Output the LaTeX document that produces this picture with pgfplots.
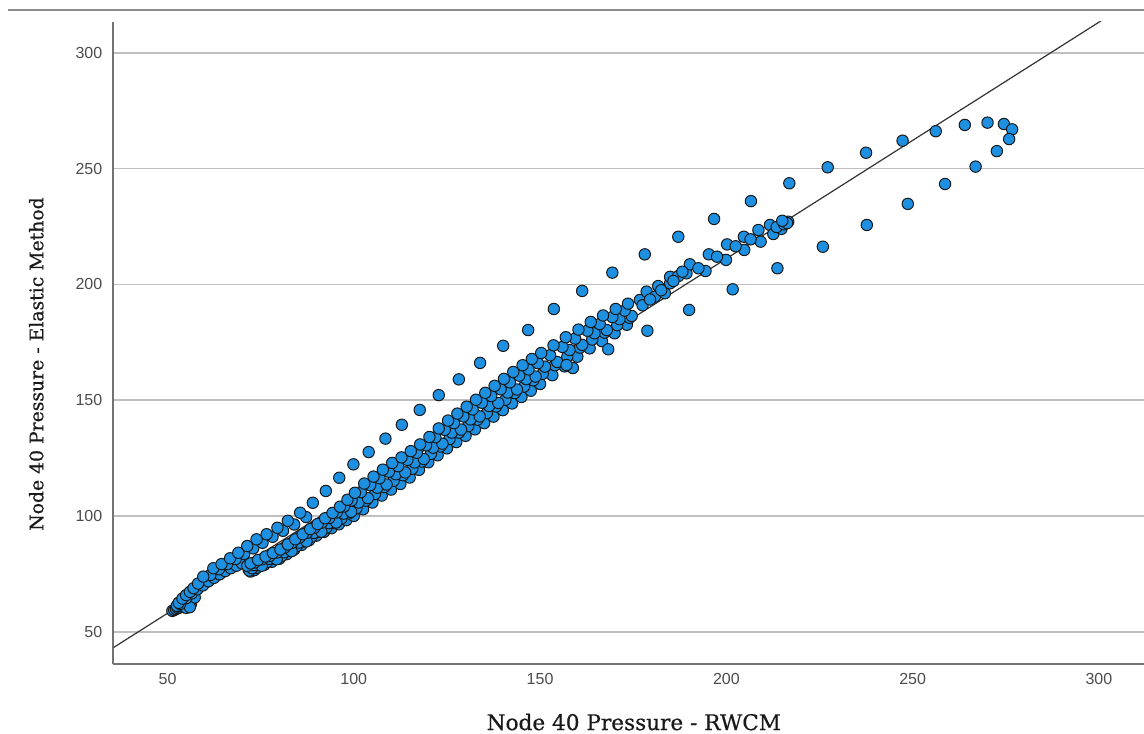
\documentclass[border=0pt]{standalone}
\usepackage{fontspec}
\setmainfont{Liberation Sans}
\newfontfamily\serifl{DejaVu Serif}[FakeBold=0.6]
\usepackage{pgfplots}
\pgfplotsset{compat=1.18}
\usepackage{pgfplotstable}
\definecolor{dotblue}{RGB}{30,144,226}

% main band chains
\pgfplotstableread{
x y
72 76.4
74 77.6
76 78.9
78 80.2
80 81.5
82 83.5
84 85.5
86 87.5
88 89.5
90 91.5
92 93.1
94 94.7
96 96.4
98 98.2
100 100.0
102.5 102.9
105 105.8
107.5 108.8
110 111.4
112.5 113.8
115 116.6
117.5 119.9
120 123.2
122.5 126.2
125 129.2
127.5 131.9
130 134.6
132.5 137.4
135 140.1
137.5 142.9
140 145.7
142.5 148.6
145 151.4
147.5 154.1
150 157.0
153.3 160.8
156.6 164.6
160 168.8
163.3 172.4
166.6 175.5
170 178.9
173.3 182.6
72.7 77.4
74.7 78.7
76.7 80.1
78.7 81.5
80.7 82.8
82.7 84.9
84.7 87.0
86.7 89.0
88.7 91.1
90.7 93.2
92.7 95.0
94.7 96.9
96.7 98.9
98.7 101.1
100.7 103.3
103.2 106.6
105.7 109.5
108.2 112.5
110.7 115.2
113.2 117.6
115.7 120.4
118.2 123.5
120.7 126.8
123.2 130.0
125.7 133.2
128.2 136.0
130.7 138.8
133.2 141.6
135.7 144.4
138.2 147.3
140.7 150.2
143.2 153.1
145.7 155.9
148.2 158.6
150.7 161.4
154.0 165.1
157.3 168.8
160.7 172.7
164.0 176.2
167.3 179.2
170.7 182.4
174.0 185.6
73.3 78.8
75.3 78.5
77.3 81.5
79.3 81.3
81.3 84.3
83.3 84.8
85.3 88.5
87.3 89.0
89.3 92.7
91.3 93.2
93.3 96.9
95.3 97.2
97.3 101.0
99.3 101.8
101.3 105.8
103.8 107.7
106.3 112.2
108.8 113.6
111.3 118.0
113.8 118.8
116.3 123.1
118.8 124.6
121.3 129.5
123.8 131.2
126.3 136.0
128.8 137.3
131.3 141.7
133.8 143.0
136.3 147.5
138.8 148.8
141.3 153.3
143.8 154.6
146.3 159.1
148.8 160.2
151.3 164.5
154.6 166.5
157.9 171.7
161.3 173.9
164.6 178.9
167.9 180.3
171.3 185.0
174.6 186.4
71.4 78.5
73.4 79.9
75.4 81.3
77.4 82.7
79.4 84.2
81.4 86.3
83.4 88.4
85.4 90.6
87.4 92.7
89.4 94.9
91.4 97.1
93.4 99.1
95.4 101.5
97.4 104.1
99.4 106.7
101.9 110.3
104.4 113.3
106.9 116.3
109.4 119.1
111.9 121.5
114.4 124.2
116.9 127.3
119.4 130.5
121.9 134.0
124.4 137.2
126.9 140.1
129.4 143.0
131.9 146.0
134.4 148.9
136.9 151.8
139.4 154.7
141.9 157.7
144.4 160.6
146.9 163.3
149.4 166.0
152.7 169.4
156.0 173.0
159.4 176.6
162.7 180.0
166.0 182.9
169.4 185.9
172.7 188.7
72.3 79.5
74.3 81.0
76.3 82.5
78.3 84.0
80.3 85.5
82.3 87.7
84.3 89.9
86.3 92.1
88.3 94.3
90.3 96.5
92.3 99.0
94.3 101.3
96.3 104.0
98.3 107.0
100.3 110.0
102.8 114.0
105.3 117.0
107.8 120.0
110.3 122.9
112.8 125.3
115.3 128.0
117.8 130.9
120.3 134.1
122.8 137.8
125.3 141.2
127.8 144.2
130.3 147.2
132.8 150.2
135.3 153.2
137.8 156.2
140.3 159.2
142.8 162.2
145.3 165.1
147.8 167.8
150.3 170.4
153.6 173.7
156.9 177.2
160.3 180.5
163.6 183.8
166.9 186.6
170.3 189.4
173.6 191.7
176.8 193.3
178.6 196.9
180.8 194.7
181.7 199.3
183.5 196.2
184.9 200.5
184.9 203.3
187.1 203.6
189.3 204.8
190.2 208.7
194.4 205.8
195.3 213.0
199.9 210.6
200.2 217.3
204.8 214.9
204.7 220.6
209.2 218.5
208.6 223.5
211.7 225.7
212.6 221.8
214.8 224.0
216.6 227.1
177.5 191.0
179.5 193.5
182.5 197.5
185.8 201.5
188.2 205.5
192.5 207.0
197.5 212.0
202.5 216.5
206.5 219.5
213.5 224.8
215.5 226.0
216.3 226.5
215.0 227.5
}\bandtable

% start cluster, chain B and second upper row
\pgfplotstableread{
x y
51.3 59.0
51.8 59.4
52.3 59.8
52.8 60.2
53.3 60.5
53.8 60.8
54.3 61.0
54.8 61.2
55.3 61.0
55.8 61.5
56.3 62.0
52.5 61.2
53.5 62.0
54.5 62.6
55.5 63.3
56.5 64.0
57.3 64.8
55.0 60.3
56.0 60.6
53.4 62.0
55.0 64.5
56.5 66.5
58.0 68.3
59.5 70.0
61.0 71.8
62.5 73.3
64.0 74.8
65.5 76.2
67.0 77.4
68.5 78.5
70.0 79.5
71.8 76.8
72.3 76.0
72.8 77.5
73.3 76.6
61.5 74.5
63.8 77.0
66.0 79.2
68.3 81.4
70.6 83.6
73.0 86.0
75.5 88.4
78.2 91.0
81.0 93.6
84.0 96.3
87.2 99.5
}\starttable

% upper loop chain A and its return branch
\pgfplotstableread{
x y
53.0 62.5
54.0 64.3
55.0 65.8
56.0 67.2
57.0 68.8
58.2 70.8
59.6 73.8
62.3 77.4
64.5 79.2
66.8 81.7
69.0 84.1
71.4 87.0
73.9 89.9
76.6 92.1
79.5 94.9
82.3 97.9
85.6 101.4
89.0 105.7
92.5 110.8
96.1 116.5
99.9 122.3
104.0 127.6
108.5 133.4
112.9 139.4
117.7 145.8
122.8 152.2
128.2 159.0
133.9 166.1
140.1 173.5
146.8 180.3
153.7 189.4
161.3 197.2
169.4 205.1
178.1 213.0
187.1 220.6
196.7 228.3
206.6 236.0
216.9 243.7
227.2 250.6
237.5 256.9
247.3 262.1
256.2 266.2
264.0 268.9
270.1 269.9
274.5 269.3
276.7 267.0
275.9 262.8
272.6 257.6
266.9 250.9
258.7 243.4
248.7 234.8
237.7 225.7
225.9 216.3
213.7 207.0
201.7 197.9
190.0 189.0
178.8 180.0
168.3 172.0
158.8 163.9
157.1 165.2
}\looptable

\begin{document}
\begin{tikzpicture}
\path[use as bounding box] (-56.65pt,-34.5pt) rectangle (515.35pt,332pt);
\draw[black!45, line width=1pt] (-52.65pt,327pt) -- (515.35pt,327pt);
\begin{axis}[
  at={(0,0)}, anchor=south west,
  scale only axis,
  width=515.35pt, height=321.15pt,
  xmin=35.45, xmax=312.1,
  ymin=36.05, ymax=313.5,
  axis x line*=bottom, axis y line*=left,
  axis line style={black!55, line width=0.9pt, -},
  xtick={50,100,150,200,250,300},
  ytick={50,100,150,200,250,300},
  major tick length=0pt,
  ymajorgrids=true,
  grid style={black!25, line width=0.8pt},
  /pgf/number format/assume math mode=true,
  tick label style={font=\fontsize{8}{9.6}\selectfont, text=black!70},
  xticklabel style={yshift=-1pt},
  yticklabel style={xshift=-2pt},
  xlabel={Node 40 Pressure - RWCM},
  ylabel={Node 40 Pressure - Elastic Method},
  xlabel style={font=\serifl\fontsize{10.8}{12.5}\selectfont, text=black!90,
    at={(axis description cs:0.505,0)}, anchor=center, yshift=-29pt},
  ylabel style={font=\serifl\fontsize{9.4}{11}\selectfont, text=black!90,
    at={(axis description cs:-0.0747,0.467)}, anchor=center},
  clip=true,
]
\addplot[black!80, line width=0.6pt] coordinates {(35.45,43.1) (300.5,313.8)};
\pgfplotsset{dotstyle/.style={only marks, mark=*, mark size=2.85pt,
  mark options={fill=dotblue, draw=black!90, line width=0.5pt}}}
\addplot[dotstyle] table[x=x,y=y] {\starttable};
\addplot[dotstyle] table[x=x,y=y] {\bandtable};
\addplot[dotstyle] table[x=x,y=y] {\looptable};
\end{axis}
\end{tikzpicture}
\end{document}
